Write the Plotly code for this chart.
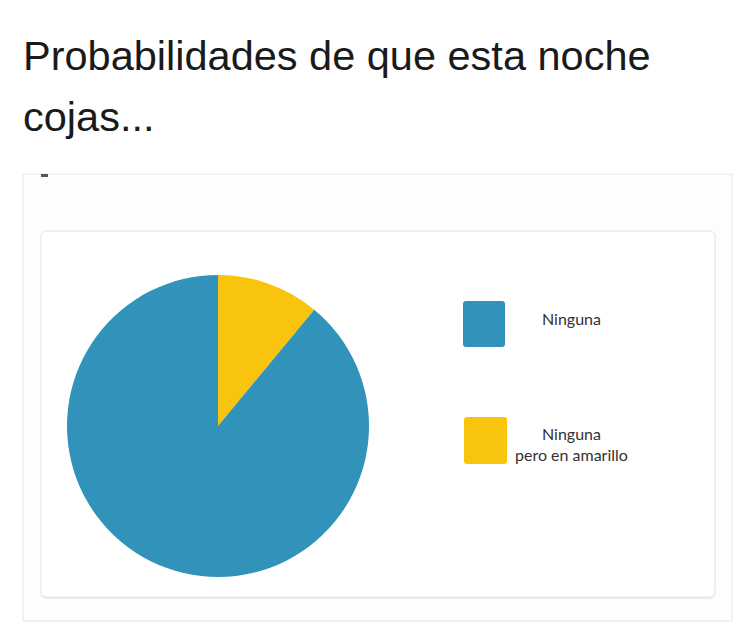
import plotly.graph_objects as go

# ---- data ----
labels = ["Ninguna", "Ninguna pero en amarillo"]
legend_text = ["Ninguna", "Ninguna<br>pero en amarillo"]
values = [89, 11]
colors = ["#3192ba", "#f9c40e"]
title_lines = ["Probabilidades de que esta noche", "cojas..."]

W, H = 750, 638
OFF = 8  # page body margin

def px(x):
    return (x - OFF) / W

def py(y):
    return 1 - (y - OFF) / H

def rrect(x0, y0, x1, y1, r):
    X0, X1, Y0, Y1 = px(x0), px(x1), py(y0), py(y1)
    rx, ry = r / W, r / H
    return (f"M {X0+rx},{Y0} L {X1-rx},{Y0} Q {X1},{Y0} {X1},{Y0-ry} "
            f"L {X1},{Y1+ry} Q {X1},{Y1} {X1-rx},{Y1} L {X0+rx},{Y1} "
            f"Q {X0},{Y1} {X0},{Y1+ry} L {X0},{Y0-ry} Q {X0},{Y0} {X0+rx},{Y0} Z")

fig = go.Figure()
# yellow slice first so it runs clockwise from 12 o'clock
fig.add_trace(go.Pie(
    labels=labels[::-1], values=values[::-1], sort=False,
    direction="clockwise", rotation=0,
    marker=dict(colors=colors[::-1], line=dict(width=0)),
    textinfo="none", hoverinfo="label+percent",
    domain=dict(x=[px(67), px(369)], y=[py(577), py(275)]),
    showlegend=False,
))

shapes = [
    dict(type="rect", xref="paper", yref="paper", x0=px(23), x1=px(732), y0=py(621), y1=py(174),
         fillcolor="#fdfdfd", line=dict(color="#e6e6e6", width=1), layer="below"),
    dict(type="rect", xref="paper", yref="paper", x0=px(41), x1=px(48), y0=py(177), y1=py(174),
         fillcolor="#555555", line=dict(width=0), layer="below"),
    dict(type="path", xref="paper", yref="paper", path=rrect(41, 233, 715, 599, 6),
         fillcolor="#ececec", line=dict(width=0), layer="below"),
    dict(type="path", xref="paper", yref="paper", path=rrect(41, 231, 715, 597, 6),
         fillcolor="#ffffff", line=dict(color="#e4e4e4", width=1), layer="below"),
]

leg_boxes = [(463, 301, 505, 347), (464, 417, 507, 464)]
leg_text_y = [318, 444]
annotations = []
for i in range(len(labels)):
    x0, y0, x1, y1 = leg_boxes[i]
    shapes.append(dict(type="path", xref="paper", yref="paper", path=rrect(x0, y0, x1, y1, 3),
                       fillcolor=colors[i], line=dict(width=0)))
    annotations.append(dict(x=px(571), y=py(leg_text_y[i]), xref="paper", yref="paper",
                            text=legend_text[i], showarrow=False, xanchor="center", yanchor="middle",
                            font=dict(family="Lato", size=16, color="#333333")))

title_y = [55, 117]
for i, t in enumerate(title_lines):
    annotations.append(dict(x=px(21), y=py(title_y[i]), xref="paper", yref="paper",
                            text=t, showarrow=False, xanchor="left", yanchor="middle",
                            font=dict(family="Liberation Sans", size=41.5, color="#1a1a1a")))

fig.update_layout(
    width=W, height=H,
    margin=dict(l=0, r=0, t=0, b=0),
    paper_bgcolor="#ffffff", plot_bgcolor="#ffffff",
    shapes=shapes, annotations=annotations,
)

fig.write_html("out.html")
